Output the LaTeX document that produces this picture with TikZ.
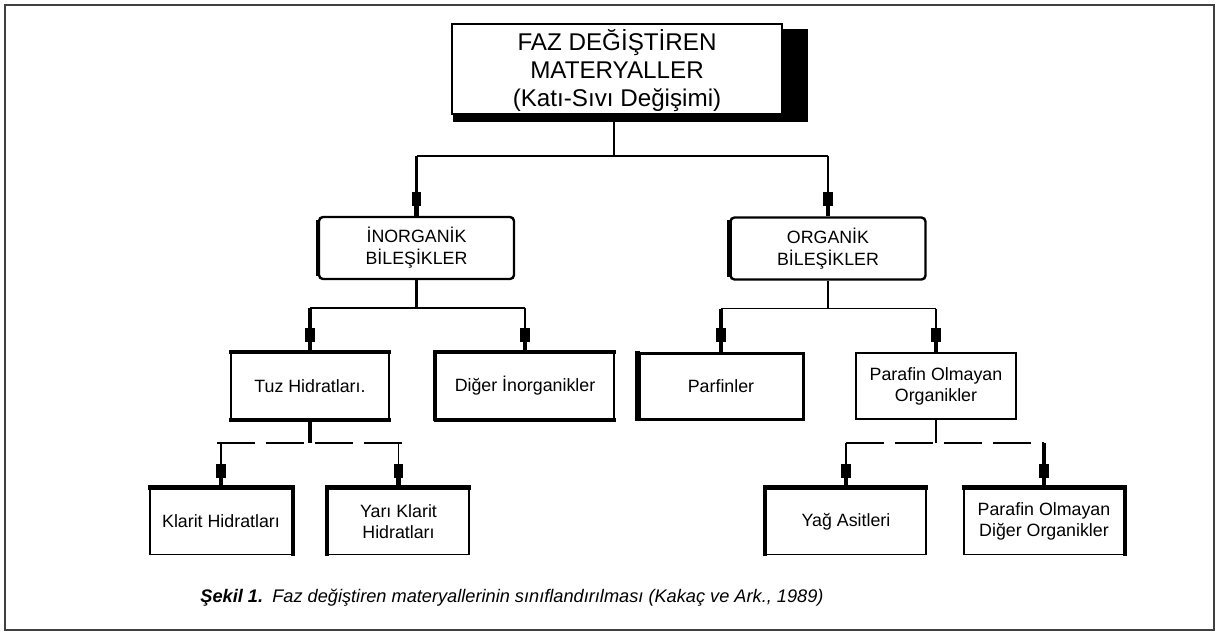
\documentclass[tikz,border=0pt]{standalone}
\usepackage{fontspec}
\setmainfont{Liberation Sans}
\usetikzlibrary{arrows.meta,calc}
\tikzset{
  box/.style={draw, line width=1.8pt, fill=white, align=center, inner sep=0pt},
  leaf/.style={box, minimum height=66pt, font=\fontsize{17.8}{21}\selectfont},
  group/.style={box, rounded corners=4pt, line width=2.4pt, minimum width=195pt, minimum height=62pt, font=\fontsize{17.8}{22}\selectfont},
  side/.style={line width=4.5pt, shorten <=-0.9pt, shorten >=-0.9pt},
  link/.style={line width=1.5pt},
  heavy/.style={line width=3.2pt},
  feed/.style={line width=1.5pt, -{Rectangle[length=14pt,width=9.5pt,line width=0pt,sep=0pt]Rectangle[length=10pt,width=4.5pt,line width=0pt,sep=0pt]}},
  gapline/.style={dash pattern=on 38pt off 11pt},
}
\begin{document}
\begin{tikzpicture}[x=1pt,y=-1pt]
\useasboundingbox (0,0) rectangle (1218,633);
\draw[line width=1.8pt, black!75] (5,5) rectangle (1214,630);

% top box with its shadow
\fill (453,29) rectangle (808,122);
\node[box, line width=2.2pt, minimum width=330pt, minimum height=90pt, text depth=2pt, font=\fontsize{24.2}{28}\selectfont] (top) at (617,69) {FAZ DEĞİŞTİREN\\MATERYALLER\\(Katı-Sıvı Değişimi)};

\node[group] (inorg) at (416.5,248) {İNORGANİK\\BİLEŞİKLER};
\node[group] (org) at (828,248.5) {ORGANİK\\BİLEŞİKLER};

\node[leaf, minimum width=158pt] (tuz) at (310,386) {Tuz Hidratları.};
\node[leaf, minimum width=178pt] (diger) at (525,386) {Diğer İnorganikler};
\node[leaf, minimum width=164pt, line width=3pt] (parf) at (721,386) {Parfinler};
\node[leaf, minimum width=160pt, line width=2.4pt] (pom) at (936,386) {Parafin Olmayan\\Organikler};

\node[leaf, minimum width=142pt] (klarit) at (221,521.5) {Klarit Hidratları};
\node[leaf, minimum width=141pt] (yari) at (398.5,521.5) {Yarı Klarit\\Hidratları};
\node[leaf, minimum width=160pt] (yag) at (846,521.5) {Yağ Asitleri};
\node[leaf, minimum width=160pt] (pod) at (1044,521.5) {Parafin Olmayan\\Diğer Organikler};

\draw[side] ($(inorg.north west)+(0,5)$) -- ($(inorg.south west)+(0,-5)$);
\draw[side] ($(org.north west)+(0,5)$) -- ($(org.south west)+(0,-5)$);
\draw[side] (tuz.north west) -- (tuz.north east);
\draw[side] (tuz.south west) -- (tuz.south east);
\draw[side] (diger.south west) -- (diger.north west) -- (diger.north east);
\draw[side] (diger.south west) -- (diger.south east);
\draw[side] (parf.north west) -- (parf.south west);
\draw[side] (klarit.north west) -- (klarit.north east) -- (klarit.south east);
\draw[side] (yari.south west) -- (yari.north west) -- (yari.north east);
\draw[side] (yag.south west) -- (yag.north west) -- (yag.north east);
\draw[side] (pod.north west) -- (pod.north east) -- (pod.south east);

\path (top.south) ++(-3,41) coordinate (j1);
\draw[link] (top.south -| j1) -- (j1);
\draw[link] (inorg.north |- j1) -- (org.north |- j1);
\draw[feed, heavy] (inorg.north |- j1) -- (inorg.north);
\draw[feed] (org.north |- j1) -- (org.north);

\path (inorg.south) ++(0,28) coordinate (j2);
\draw[link, heavy] (inorg.south) -- (j2);
\draw[link] (tuz.north |- j2) -- (diger.north |- j2);
\draw[feed, heavy] (tuz.north |- j2) -- (tuz.north);
\draw[feed] (diger.north |- j2) -- (diger.north);

\path (org.south) ++(0,28) coordinate (j3);
\draw[link] (org.south) -- (j3);
\draw[link] (parf.north |- j3) -- (pom.north |- j3);
\draw[feed, heavy] (parf.north |- j3) -- (parf.north);
\draw[feed] (pom.north |- j3) -- (pom.north);

\path (tuz.south) ++(0,23) coordinate (j4);
\draw[link, heavy] (tuz.south) -- (j4);
\draw[link, gapline] ($(klarit.north |- j4)+(-4,0)$) -- ($(yari.north |- j4)+(4,0)$);
\draw[feed] (klarit.north |- j4) -- (klarit.north);
\draw[feed] (yari.north |- j4) -- (yari.north);

\path (pom.south) ++(0,23) coordinate (j5);
\draw[link] (pom.south) -- (j5);
\draw[link, gapline] (yag.north |- j5) -- (pod.north |- j5);
\draw[feed] (yag.north |- j5) -- (yag.north);
\draw[feed, heavy] (pod.north |- j5) -- (pod.north);

\node[font=\fontsize{18.2}{22}\selectfont] (cap) at (512,598) {\textbf{\textit{Şekil 1.}}\enspace\textit{Faz değiştiren materyallerinin sınıflandırılması (Kakaç ve Ark., 1989)}};
\end{tikzpicture}
\end{document}
